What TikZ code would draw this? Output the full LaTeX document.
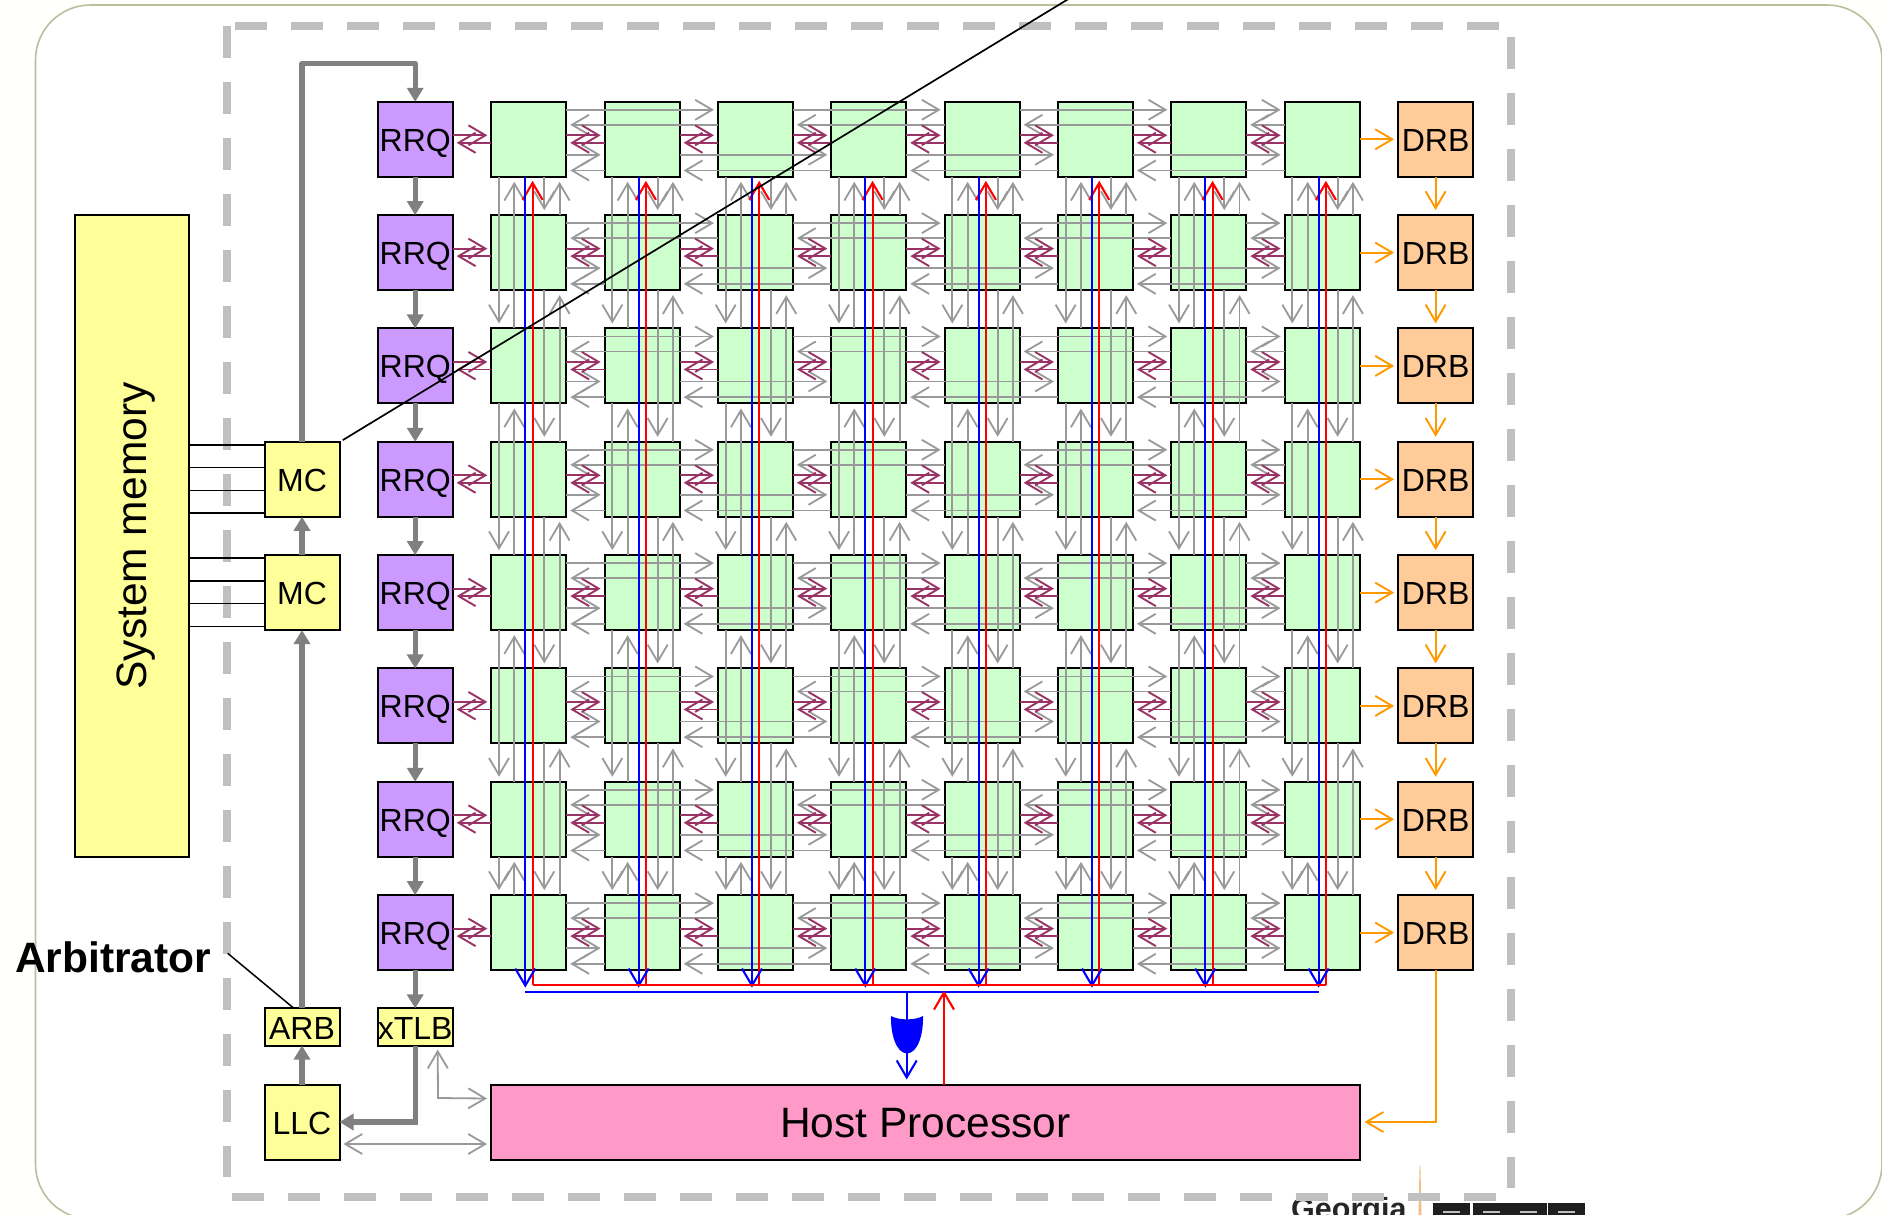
\documentclass[tikz,border=0pt]{standalone}
\usepackage{fontspec}
\setmainfont{Liberation Sans}
\usetikzlibrary{arrows.meta}
\definecolor{gthin}{HTML}{999999}
\definecolor{gthick}{HTML}{808080}
\definecolor{gdash}{HTML}{C0C0C0}
\definecolor{pur}{HTML}{993366}
\definecolor{org}{HTML}{FF9900}
\definecolor{cellc}{HTML}{CCFFCC}
\definecolor{rrqc}{HTML}{CC99FF}
\definecolor{yelc}{HTML}{FFFF99}
\definecolor{drbc}{HTML}{FFCC99}
\definecolor{hostc}{HTML}{FF99C8}
\definecolor{cream}{HTML}{FFFFFC}
\definecolor{edgec}{HTML}{BDBDA0}
\definecolor{pure}{HTML}{FF0000}
\definecolor{purb}{HTML}{0000FF}
\tikzset{
  box/.style={draw=black,line width=2pt,inner sep=0pt,outer sep=0pt,minimum width=75pt,minimum height=75pt,font=\fontsize{32}{36}\selectfont,text height=24pt,text depth=0pt},
  cellbox/.style={box,fill=cellc},
  rrqbox/.style={box,fill=rrqc},
  drbbox/.style={box,fill=drbc},
  yelbox/.style={box,fill=yelc},
  smallbox/.style={box,fill=yelc,minimum height=37.2pt},
  thin arrow/.style={line width=1.8pt,-{Straight Barb[length=17pt,width=20pt]}},
  gl/.style={thin arrow,draw=gthin},
  pl/.style={thin arrow,draw=pur,line width=1.9pt},
  ol/.style={thin arrow,draw=org,line width=1.9pt},
  rl/.style={thin arrow,draw=pure,line width=2.1pt},
  bl/.style={thin arrow,draw=purb,line width=2.1pt},
  thick arrow/.style={draw=gthick,line width=5.4pt,-{Triangle[length=14pt,width=16pt]}},
  dashline/.style={draw=gdash,line width=8pt,dash pattern=on 32pt off 24pt},
  memline/.style={draw=black,line width=1.6pt},
}
\begin{document}
\begin{tikzpicture}[x=1pt,y=-1pt]
\clip (0,0) rectangle (1882,1215);
\fill[cream] (0,0) rectangle (1882,1215);
\draw[draw=edgec,fill=white,line width=1.6pt,rounded corners=55pt] (35.5,5) rectangle (1882,1219);

% logo fragment
\node[anchor=base west,inner sep=0pt,font=\fontsize{30.5}{34}\selectfont\bfseries,text=black!85] (geo) at (1291,1219.5) {Georgia};
\fill[drbc!80!brown] (1418.5,1215) -- (1419.6,1165) -- (1420.4,1165) -- (1421.5,1215) -- cycle;
\foreach \x in {1433,1472.5,1510,1547.5}{
  \fill[black!88] (\x,1203) rectangle ++(37,12);
  \fill[gdash] (\x+10,1211) rectangle ++(17,2);
}

% dashed frame
\draw[dashline] (235,25.7) -- (1499,25.7);
\draw[dashline] (226.7,25.7) -- (226.7,1177);
\draw[dashline] (1511,36.7) -- (1511,1188);
\draw[dashline] (231.7,1196.7) -- (1495.7,1196.7);

% nodes
\foreach \r in {0,...,7}{
  \node[rrqbox] (q-\r) at (415.2,{139.3+113.33*\r}) {RRQ};
  \node[drbbox] (d-\r) at (1435.6,{139.3+113.33*\r}) {DRB};
  \foreach \i in {0,...,7}{
    \node[cellbox] (c-\r-\i) at ({528.8+113.33*\i},{139.3+113.33*\r}) {};
  }
}
\node[box,fill=yelc,minimum width=642pt,minimum height=113.5pt,font=\fontsize{42.5}{48}\selectfont,rotate=90,text height=37pt,text depth=9pt] (mem) at (132,536) {System memory};
\node[yelbox] (mc1) at (302,479.3) {MC};
\node[yelbox] (mc2) at (302,592.6) {MC};
\node[smallbox] (arb) at (302,1027) {ARB};
\node[smallbox] (xt) at (415.2,1027) {xTLB};
\node[yelbox] (llc) at (302,1122) {LLC};
\node[box,fill=hostc,minimum width=869pt,font=\fontsize{42.5}{48}\selectfont,text height=31pt] (host) at (925.5,1122) {Host Processor};
\node[anchor=base west,inner sep=0pt,font=\fontsize{42.5}{46}\selectfont\bfseries] (alab) at (15,972.7) {Arbitrator};
\coordinate (alabend) at (227.7,953.3);
\coordinate (topc) at (415.2,63.5);
\coordinate (bendc) at (438,1098);
\coordinate (diagend) at (1075,-5);
\coordinate (orin) at (906.7,993);

% memory lines
\foreach \m in {mc1,mc2}{
  \foreach \s in {34.5,11.7,-11,-33.8}{
    \coordinate (p) at ([yshift=\s pt]\m.west);
    \draw[memline] (p) -- (p -| mem.south);
  }
}

% grey mesh
\foreach \r in {0,...,7}{
  \foreach \a/\b in {0/2,2/4,4/6,6/7}{
    \draw[gl] ([yshift=-8pt]c-\r-\a.north east) -- ([xshift=-4pt,yshift=-8pt]c-\r-\b.north west);
    \draw[gl] ([yshift=-23pt]c-\r-\b.north west) -- ([xshift=4pt,yshift=-23pt]c-\r-\a.north east);
    \draw[gl] ([xshift=7.7pt]c-\a-\r.south west) -- ([xshift=7.7pt,yshift=5pt]c-\b-\r.north west);
    \draw[gl] ([xshift=23pt]c-\b-\r.north west) -- ([xshift=23pt,yshift=-5pt]c-\a-\r.south west);
  }
  \foreach \a/\b in {0/1,1/3,3/5,5/7}{
    \draw[gl] ([yshift=-53pt]c-\r-\a.north east) -- ([xshift=-4pt,yshift=-53pt]c-\r-\b.north west);
    \draw[gl] ([yshift=-68.7pt]c-\r-\b.north west) -- ([xshift=4pt,yshift=-68.7pt]c-\r-\a.north east);
    \draw[gl] ([xshift=53pt]c-\a-\r.south west) -- ([xshift=53pt,yshift=5pt]c-\b-\r.north west);
    \draw[gl] ([xshift=68.3pt]c-\b-\r.north west) -- ([xshift=68.3pt,yshift=-5pt]c-\a-\r.south west);
  }
}

% purple links and orange
\foreach \r in {0,...,7}{
  \draw[pl] ([yshift=4pt]q-\r.east) -- ([xshift=-4pt,yshift=4pt]c-\r-0.west);
  \draw[pl] ([yshift=-3.5pt]c-\r-0.west) -- ([xshift=4pt,yshift=-3.5pt]q-\r.east);
  \foreach \a/\b in {0/1,1/2,2/3,3/4,4/5,5/6,6/7}{
    \draw[pl] ([yshift=4pt]c-\r-\a.east) -- ([xshift=-4pt,yshift=4pt]c-\r-\b.west);
    \draw[pl] ([yshift=-3.5pt]c-\r-\b.west) -- ([xshift=4pt,yshift=-3.5pt]c-\r-\a.east);
  }
  \draw[ol] (c-\r-7.east) -- ([xshift=-4pt]d-\r.west);
}
\foreach \a/\b in {0/1,1/2,2/3,3/4,4/5,5/6,6/7}{
  \draw[ol] (d-\a.south) -- ([yshift=5pt]d-\b.north);
  \draw[thick arrow] (q-\a.south) -- (q-\b.north);
}
\draw[ol] (d-7.south) |- ([xshift=4.5pt]host.east);

% thick grey
\draw[thick arrow] (q-7.south) -- (xt.north);
\draw[thick arrow] (xt.south) |- (llc.east);
\draw[thick arrow] (llc.north) -- (arb.south);
\draw[thick arrow] (arb.north) -- (mc2.south);
\draw[thick arrow] (mc2.north) -- (mc1.south);
\draw[thick arrow,line join=round] (mc1.north) |- (topc) -- (q-0.north);

% thin grey to host
\draw[gl,{Straight Barb[length=17pt,width=20pt]}-{Straight Barb[length=17pt,width=20pt]}] ([xshift=4pt,yshift=-22pt]llc.east) -- ([xshift=-4pt,yshift=-22pt]host.west);
\draw[gl,{Straight Barb[length=17pt,width=20pt]}-{Straight Barb[length=17pt,width=20pt]}] ([xshift=-4pt,yshift=-14pt]host.north west) -- (bendc) -- ([xshift=-15pt,yshift=-4pt]xt.south east);

% red and blue buses
\foreach \i in {0,...,7}{
  \draw[rl] ([xshift=41.3pt,yshift=-15pt]c-7-\i.south west) -- ([xshift=41.3pt,yshift=-4pt]c-0-\i.south west);
  \draw[bl] ([xshift=34pt]c-0-\i.south west) -- ([xshift=34pt,yshift=-17.5pt]c-7-\i.south west);
}
\draw[draw=pure,line width=2.1pt] ([xshift=41.3pt,yshift=-15pt]c-7-0.south west) -- ([xshift=41.3pt,yshift=-15pt]c-7-7.south west);
\draw[draw=purb,line width=2.1pt] ([xshift=34pt,yshift=-22.3pt]c-7-0.south west) -- ([xshift=34pt,yshift=-22.3pt]c-7-7.south west);
\draw[bl] (orin) -- ([xshift=-18.8pt,yshift=5pt]host.north);
\fill[purb] (891,1016) .. controls (899,1020.5) and (915,1020.5) .. (923,1016) .. controls (923.5,1034) and (918,1053) .. (907,1053.5) .. controls (896,1053) and (890.5,1034) .. (891,1016) -- cycle;
\draw[rl] ([xshift=18.5pt]host.north) -- ([xshift=18.5pt,yshift=94pt]host.north);

% callout lines
\draw[line width=1.7pt,draw=black] ([xshift=3.3pt,yshift=1.7pt]mc1.north east) -- (diagend);
\draw[line width=1.5pt,draw=black] (alabend) -- ([xshift=-8pt]arb.north);
\end{tikzpicture}
\end{document}
